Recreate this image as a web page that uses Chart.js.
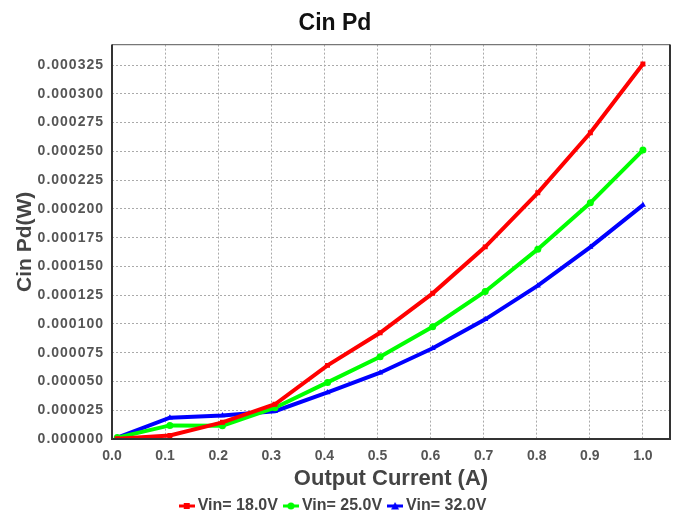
<!DOCTYPE html>
<html>
<head>
<meta charset="utf-8">
<script src="https://cdn.jsdelivr.net/npm/chart.js@4/dist/chart.umd.min.js"></script>
<style>
    html, body { margin: 0; padding: 0; background: #ffffff; }
    #wrap { width: 678px; height: 516px; }
</style>
</head>
<body>
<div id="wrap"><canvas id="cinChart" width="678" height="516"></canvas></div>
<script>
var outputCurrent = [0.01, 0.109, 0.208, 0.307, 0.406, 0.505, 0.604, 0.703, 0.802, 0.901, 1.0];
var vin18 = [0.0000003, 0.0000030, 0.0000145, 0.0000302, 0.0000640, 0.0000923, 0.0001266, 0.0001670, 0.0002140, 0.0002662, 0.0003260];
var vin25 = [0.0000012, 0.0000118, 0.0000115, 0.0000272, 0.0000492, 0.0000715, 0.0000976, 0.0001282, 0.0001650, 0.0002053, 0.0002511];
var vin32 = [0.0000012, 0.0000185, 0.0000205, 0.0000242, 0.0000405, 0.0000576, 0.0000788, 0.0001040, 0.0001333, 0.0001668, 0.0002033];
var seriesNames = ['Vin= 18.0V', 'Vin= 25.0V', 'Vin= 32.0V'];
var xTicks = [0.0, 0.1, 0.2, 0.3, 0.4, 0.5, 0.6, 0.7, 0.8, 0.9, 1.0];
var yTicks = [0, 0.000025, 0.00005, 0.000075, 0.0001, 0.000125, 0.00015, 0.000175, 0.0002, 0.000225, 0.00025, 0.000275, 0.0003, 0.000325];

var FONT = '"Liberation Sans", Arial, sans-serif';

function toPoints(ys) {
    return ys.map(function(y, i) { return { x: outputCurrent[i], y: y }; });
}

// little line + marker swatch for the legend
function legendSwatch(color, shape) {
    var c = document.createElement('canvas');
    c.width = 16;
    c.height = 8;
    var g = c.getContext('2d');
    g.fillStyle = color;
    g.fillRect(0, 2.5, 16, 3);
    g.beginPath();
    if (shape === 'rect') {
        g.rect(5, 1, 6, 6);
    } else if (shape === 'circle') {
        g.arc(8, 4, 3.5, 0, Math.PI * 2);
    } else {
        g.moveTo(8, 0);
        g.lineTo(12, 7.5);
        g.lineTo(4, 7.5);
        g.closePath();
    }
    g.fill();
    return c;
}

var frame = {
    id: 'frame',
    afterDraw: function(chart) {
        var a = chart.chartArea;
        var ctx = chart.ctx;
        ctx.save();
        ctx.strokeStyle = '#777777';
        ctx.lineWidth = 1.2;
        ctx.beginPath();
        ctx.moveTo(a.left, a.top);
        ctx.lineTo(a.right, a.top);
        ctx.stroke();
        ctx.strokeStyle = '#333333';
        ctx.lineWidth = 2;
        ctx.beginPath();
        ctx.moveTo(a.left, a.top);
        ctx.lineTo(a.left, a.bottom);
        ctx.lineTo(a.right, a.bottom);
        ctx.lineTo(a.right, a.top);
        ctx.stroke();
        ctx.restore();
    }
};

var spacedTicks = {
    id: 'spacedTicks',
    afterLayout: function(chart) {
        var s = chart.scales.y;
        if (s._spaced) return;
        var orig = s.drawLabels;
        s.drawLabels = function(area) {
            var c = this.ctx;
            c.save();
            c.letterSpacing = '1px';
            orig.call(this, area);
            c.restore();
        };
        s._spaced = true;
    }
};

var colors = ['#ff0000', '#00ff00', '#0000ff'];
var shapes = ['rect', 'circle', 'triangle'];
var swatches = colors.map(function(c, i) { return legendSwatch(c, shapes[i]); });

var ctx = document.getElementById('cinChart').getContext('2d');
new Chart(ctx, {
    type: 'line',
    data: {
        datasets: [vin18, vin25, vin32].map(function(ys, i) {
            return {
                label: seriesNames[i],
                data: toPoints(ys),
                borderColor: colors[i],
                backgroundColor: colors[i],
                borderWidth: 4,
                pointStyle: shapes[i],
                pointRadius: 3.5,
                pointBorderWidth: 0,
                pointBackgroundColor: colors[i],
                fill: false,
                tension: 0
            };
        })
    },
    options: {
        responsive: false,
        animation: false,
        layout: { padding: { left: 0, right: 8, top: 0, bottom: -8 } },
        plugins: {
            title: {
                display: true,
                text: 'Cin Pd',
                color: '#111111',
                font: { family: FONT, size: 23, weight: 'bold' },
                padding: { top: 10, bottom: 7 }
            },
            legend: {
                position: 'bottom',
                labels: {
                    color: '#444444',
                    font: { family: FONT, size: 16, weight: 'bold' },
                    usePointStyle: true,
                    pointStyleWidth: 6,
                    boxHeight: 8,
                    padding: 10,
                    generateLabels: function(chart) {
                        return chart.data.datasets.map(function(ds, i) {
                            return {
                                text: ds.label,
                                pointStyle: swatches[i],
                                fillStyle: ds.borderColor,
                                strokeStyle: ds.borderColor,
                                lineWidth: 0,
                                fontColor: '#444444',
                                datasetIndex: i
                            };
                        });
                    }
                }
            },
            tooltip: { enabled: false }
        },
        scales: {
            x: {
                type: 'linear',
                min: 0,
                max: 1.051,
                afterFit: function(scale) { scale.height = 49; },
                afterBuildTicks: function(scale) {
                    scale.ticks = xTicks.map(function(v) { return { value: v }; });
                },
                ticks: {
                    color: '#555555',
                    padding: 9,
                    maxRotation: 0,
                    font: { family: FONT, size: 14, weight: 'bold' },
                    callback: function(value) { return value.toFixed(1); }
                },
                grid: {
                    color: '#aaaaaa',
                    lineWidth: 1,
                    drawTicks: false
                },
                border: { display: false, dash: [2, 2] },
                title: {
                    display: true,
                    text: 'Output Current (A)',
                    color: '#444444',
                    font: { family: FONT, size: 22, weight: 'bold' },
                    padding: { top: 0, bottom: -4 }
                }
            },
            y: {
                min: 0,
                max: 0.0003428,
                afterFit: function(scale) { scale.width = 112; },
                afterBuildTicks: function(scale) {
                    scale.ticks = yTicks.map(function(v) { return { value: v }; });
                },
                ticks: {
                    color: '#555555',
                    padding: 8,
                    font: { family: FONT, size: 14, weight: 'bold' },
                    callback: function(value) { return value.toFixed(6); }
                },
                grid: {
                    color: '#aaaaaa',
                    lineWidth: 1,
                    drawTicks: false
                },
                border: { display: false, dash: [2, 2] },
                title: {
                    display: true,
                    text: 'Cin Pd(W)',
                    color: '#444444',
                    font: { family: FONT, size: 21, weight: 'bold' },
                    padding: { top: 13, bottom: 0 }
                }
            }
        }
    },
    plugins: [frame, spacedTicks]
});
</script>
</body>
</html>
